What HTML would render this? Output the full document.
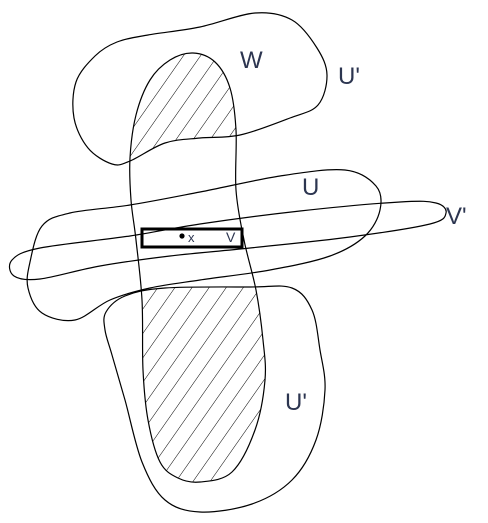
<!DOCTYPE html>
<html><head><meta charset="utf-8"><style>
html,body{margin:0;padding:0;background:#fff;}
svg{display:block;}
text{font-family:"Liberation Sans","DejaVu Sans",sans-serif;fill:#2c3550;}
</style></head><body>
<svg id="d" width="488" height="523" viewBox="0 0 488 523">
<defs>
<pattern id="hatch" patternUnits="userSpaceOnUse" width="14" height="14" patternTransform="rotate(35)">
<line x1="0" y1="0" x2="0" y2="14" stroke="#000" stroke-width="1"/>
</pattern>
<clipPath id="cW"><path id="pWc"/></clipPath>
<clipPath id="cU1"><path id="pU1c"/></clipPath>
<clipPath id="cU2"><path id="pU2c"/></clipPath>
</defs>
<g clip-path="url(#cW)"><rect x="0" y="0" width="488" height="523" fill="url(#hatch)" clip-path="url(#cU1)"/></g>
<g clip-path="url(#cW)"><rect x="0" y="0" width="488" height="523" fill="url(#hatch)" clip-path="url(#cU2)"/></g>
<path id="pU1" fill="none" stroke="#000" stroke-width="1.2"/>
<path id="pU2" fill="none" stroke="#000" stroke-width="1.2"/>
<path id="pW" fill="none" stroke="#000" stroke-width="1.2"/>
<path id="pU" fill="none" stroke="#000" stroke-width="1.2"/>
<path id="pV" fill="none" stroke="#000" stroke-width="1.2"/>
<rect x="142" y="229" width="100" height="18" fill="none" stroke="#000" stroke-width="3"/>
<circle cx="182" cy="236" r="2.6" fill="#000"/>
<text x="188" y="242" font-size="13">x</text>
<text x="226" y="242" font-size="14">V</text>
<text x="240" y="68" font-size="24">W</text>
<text x="338" y="84" font-size="24">U'</text>
<text x="302" y="195" font-size="24">U</text>
<text x="446" y="224" font-size="24">V'</text>
<text x="285" y="410" font-size="24">U'</text>
</svg>
<script>
function smooth(p){
  var n=p.length,d='M'+p[0][0]+','+p[0][1];
  for(var i=0;i<n;i++){
    var p0=p[(i-1+n)%n],p1=p[i],p2=p[(i+1)%n],p3=p[(i+2)%n];
    var c1=[p1[0]+(p2[0]-p0[0])/6,p1[1]+(p2[1]-p0[1])/6];
    var c2=[p2[0]-(p3[0]-p1[0])/6,p2[1]-(p3[1]-p1[1])/6];
    d+='C'+c1[0].toFixed(1)+','+c1[1].toFixed(1)+' '+c2[0].toFixed(1)+','+c2[1].toFixed(1)+' '+p2[0]+','+p2[1];
  }
  return d+'Z';
}
var U1=[[117,42],[148,35],[200,27],[255,13],[292,20],[317,48],[327,75],[318,105],[290,118],[240,135],[200,138],[165,143],[130,161],[112,164],[88,148],[74,118],[76,82],[95,56]];
var U2=[[106,312],[125,296],[165,288],[250,287],[292,288],[312,310],[320,350],[325,390],[316,440],[292,480],[252,504],[200,512],[165,500],[142,462],[125,400],[112,355],[105,330]];
var W=[[193,53],[215,62],[230,88],[236,130],[236,190],[244,240],[256,290],[263,340],[265,380],[255,430],[232,472],[200,482],[178,478],[160,462],[148,420],[143,370],[142,300],[136,240],[131,200],[130,158],[136,115],[150,80],[170,60]];
var U=[[30,262],[42,226],[70,213],[130,205],[200,192],[280,176],[345,170],[376,186],[380,210],[365,236],[330,256],[270,270],[200,280],[150,288],[110,300],[75,320],[42,313],[28,288]];
var V=[[12,260],[40,248],[130,236],[200,224],[300,211],[400,202],[436,203],[446,213],[430,224],[350,237],[250,248],[170,256],[100,266],[40,279],[14,276]];
var m={pU1:U1,pU1c:U1,pU2:U2,pU2c:U2,pW:W,pWc:W,pU:U,pV:V};
for(var k in m)document.getElementById(k).setAttribute('d',smooth(m[k]));
</script>
</body></html>
